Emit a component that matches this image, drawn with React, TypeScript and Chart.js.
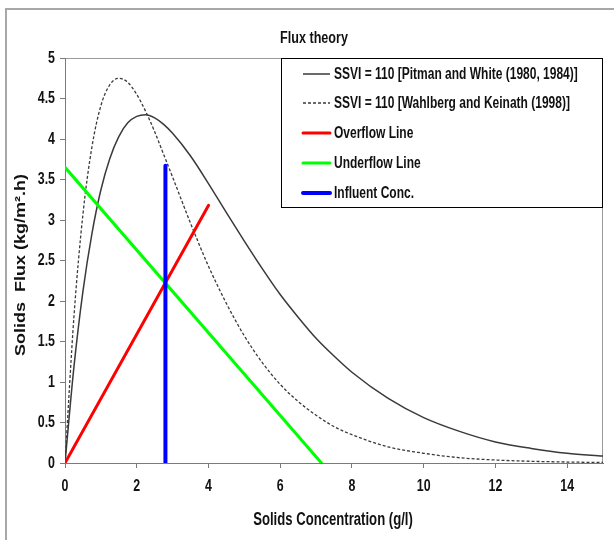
import React, { useEffect, useRef } from "react";
import { Chart, registerables } from "chart.js";
Chart.register(...registerables);

// ---- data ----
const concentration = [0, 0.25, 0.5, 0.75, 1, 1.25, 1.5, 1.75, 2, 2.25, 2.5, 2.75, 3, 3.5, 4, 4.5, 5, 5.5, 6, 6.5, 7, 7.5, 8, 9, 10, 11, 12, 13, 14, 15];
const fluxPitmanWhite = [0, 1.19, 2.12, 2.83, 3.37, 3.76, 4.03, 4.2, 4.28, 4.3, 4.26, 4.18, 4.07, 3.79, 3.45, 3.09, 2.74, 2.4, 2.08, 1.8, 1.54, 1.32, 1.12, 0.8, 0.56, 0.39, 0.26, 0.18, 0.12, 0.085];
const fluxWahlberg = [0, 1.81, 3.07, 3.9, 4.41, 4.67, 4.75, 4.7, 4.55, 4.34, 4.09, 3.81, 3.53, 2.96, 2.43, 1.97, 1.57, 1.24, 0.97, 0.76, 0.59, 0.45, 0.35, 0.2, 0.12, 0.065, 0.037, 0.021, 0.012, 0.006];
const overflowConc = [0, 4];
const overflowFlux = [0, 3.18];
const underflowConc = [0, 7.15];
const underflowFlux = [3.65, 0];
const influentConc = [2.8, 2.8];
const influentFlux = [0, 3.67];

const seriesLabels = [
  "SSVI = 110 [Pitman and White (1980, 1984)]",
  "SSVI = 110 [Wahlberg and Keinath (1998)]",
  "Overflow Line",
  "Underflow Line",
  "Influent Conc.",
];
const chartTitle = "Flux theory";
const xTitle = "Solids Concentration (g/l)";
const yTitle = "Solids  Flux (kg/m\u00B2.h)";

const FONT = "'Liberation Sans', Arial, sans-serif";
const SQ = 0.75; // horizontal condensing of the reference's narrow lettering
const INK = "#111111";

const pts = (xs: number[], ys: number[]) => xs.map((x, i) => ({ x, y: ys[i] }));

function narrowText(ctx: CanvasRenderingContext2D, text: string, x: number, y: number, size: number, align: CanvasTextAlign) {
  ctx.save();
  ctx.translate(x, y);
  ctx.scale(SQ, 1);
  ctx.font = `bold ${size}px ${FONT}`;
  ctx.fillStyle = INK;
  ctx.textAlign = align;
  ctx.textBaseline = "middle";
  ctx.fillText(text, 0, 0);
  ctx.restore();
}

const fmt = (v: number) => String(Number(v.toFixed(2)));

const decor = {
  id: "decor",
  beforeDraw(chart: any) {
    const ctx = chart.ctx as CanvasRenderingContext2D;
    const { left, top, right, bottom } = chart.chartArea;
    ctx.save();
    ctx.fillStyle = "#ffffff";
    ctx.fillRect(0, 0, chart.width, chart.height);
    // outer frame
    ctx.strokeStyle = "#a8a8a8";
    ctx.lineWidth = 2;
    ctx.beginPath();
    ctx.moveTo(6, chart.height);
    ctx.lineTo(6, 9);
    ctx.lineTo(chart.width, 9);
    ctx.stroke();
    // plot area border
    ctx.strokeStyle = "#9a9a9a";
    ctx.lineWidth = 1;
    ctx.strokeRect(left + 0.5, top + 0.5, right - left - 1, bottom - top);
    ctx.restore();
  },
  afterDatasetsDraw(chart: any) {
    const ctx = chart.ctx as CanvasRenderingContext2D;
    ctx.save();
    // legend box
    const bx = 281, by = 58, bw = 322, bh = 150;
    ctx.fillStyle = "#ffffff";
    ctx.fillRect(bx, by, bw, bh);
    ctx.strokeStyle = "#000000";
    ctx.lineWidth = 1;
    ctx.strokeRect(bx + 0.5, by + 0.5, bw - 1, bh - 1);
    const rowY = [74, 103, 133, 163, 193];
    chart.data.datasets.forEach((ds: any, i: number) => {
      const y = rowY[i];
      ctx.save();
      ctx.strokeStyle = ds.borderColor;
      ctx.lineWidth = ds.borderWidth;
      ctx.lineCap = ds.borderWidth > 2 ? "round" : "butt";
      ctx.setLineDash(ds.borderDash || []);
      ctx.beginPath();
      ctx.moveTo(303, y);
      ctx.lineTo(330, y);
      ctx.stroke();
      ctx.restore();
      narrowText(ctx, seriesLabels[i], 334, y + 1, 16, "left");
    });
    ctx.restore();
  },
  afterDraw(chart: any) {
    const ctx = chart.ctx as CanvasRenderingContext2D;
    const xs = chart.scales.x;
    const ys = chart.scales.y;
    // tick labels, positioned by the library's scales
    xs.ticks.forEach((t: any) => {
      narrowText(ctx, fmt(t.value), xs.getPixelForValue(t.value), 486, 16.5, "center");
    });
    ys.ticks.forEach((t: any) => {
      narrowText(ctx, fmt(t.value), 55, ys.getPixelForValue(t.value), 16.5, "right");
    });
    // titles
    narrowText(ctx, chartTitle, 314, 38, 16.8, "center");
    narrowText(ctx, xTitle, 333, 520, 17.5, "center");
    ctx.save();
    ctx.translate(21, 265);
    ctx.rotate(-Math.PI / 2);
    ctx.scale(1, 0.8);
    ctx.font = `bold 18px ${FONT}`;
    ctx.fillStyle = INK;
    ctx.textAlign = "center";
    ctx.textBaseline = "middle";
    ctx.fillText(yTitle, 0, 0);
    ctx.restore();
  },
};

export default function App() {
  const ref = useRef<HTMLCanvasElement | null>(null);
  useEffect(() => {
    document.body.style.margin = "0";
    const canvas = ref.current!;
    const chart = new Chart(canvas, {
      type: "line",
      data: {
        datasets: [
          {
            label: seriesLabels[0],
            data: pts(concentration, fluxPitmanWhite),
            borderColor: "#3a3a3a",
            borderWidth: 1.5,
            pointRadius: 0,
            cubicInterpolationMode: "monotone",
            order: 5,
          },
          {
            label: seriesLabels[1],
            data: pts(concentration, fluxWahlberg),
            borderColor: "#3a3a3a",
            borderWidth: 1.3,
            borderDash: [3, 2],
            pointRadius: 0,
            cubicInterpolationMode: "monotone",
            order: 4,
          },
          {
            label: seriesLabels[2],
            data: pts(overflowConc, overflowFlux),
            borderColor: "#ff0000",
            borderWidth: 3,
            borderCapStyle: "round",
            pointRadius: 0,
            order: 3,
          },
          {
            label: seriesLabels[3],
            data: pts(underflowConc, underflowFlux),
            borderColor: "#00ff00",
            borderWidth: 3,
            borderCapStyle: "round",
            pointRadius: 0,
            order: 2,
          },
          {
            label: seriesLabels[4],
            data: pts(influentConc, influentFlux),
            borderColor: "#0000ff",
            borderWidth: 4,
            borderCapStyle: "round",
            pointRadius: 0,
            order: 1,
          },
        ],
      },
      options: {
        animation: false,
        responsive: false,
        events: [],
        layout: { padding: { left: 0, top: 58, right: 11, bottom: 0 } },
        plugins: { legend: { display: false }, title: { display: false }, tooltip: { enabled: false } },
        scales: {
          x: {
            type: "linear",
            min: 0,
            max: 15,
            border: { display: true, color: "#7a7a7a", width: 1 },
            grid: { drawOnChartArea: false, drawTicks: true, tickLength: 5, color: "#7a7a7a" },
            ticks: { stepSize: 2, includeBounds: false, display: false },
            afterFit: (s: any) => { s.height = 77; },
          },
          y: {
            type: "linear",
            min: 0,
            max: 5,
            border: { display: true, color: "#7a7a7a", width: 1 },
            grid: { drawOnChartArea: false, drawTicks: true, tickLength: 5, color: "#7a7a7a" },
            ticks: { stepSize: 0.5, display: false },
            afterFit: (s: any) => { s.width = 65; },
          },
        },
      },
      plugins: [decor],
    } as any);
    return () => chart.destroy();
  }, []);
  return (
    <div style={{ width: 614, height: 540 }}>
      <canvas ref={ref} width={614} height={540} style={{ display: "block", width: 614, height: 540 }} />
    </div>
  );
}
